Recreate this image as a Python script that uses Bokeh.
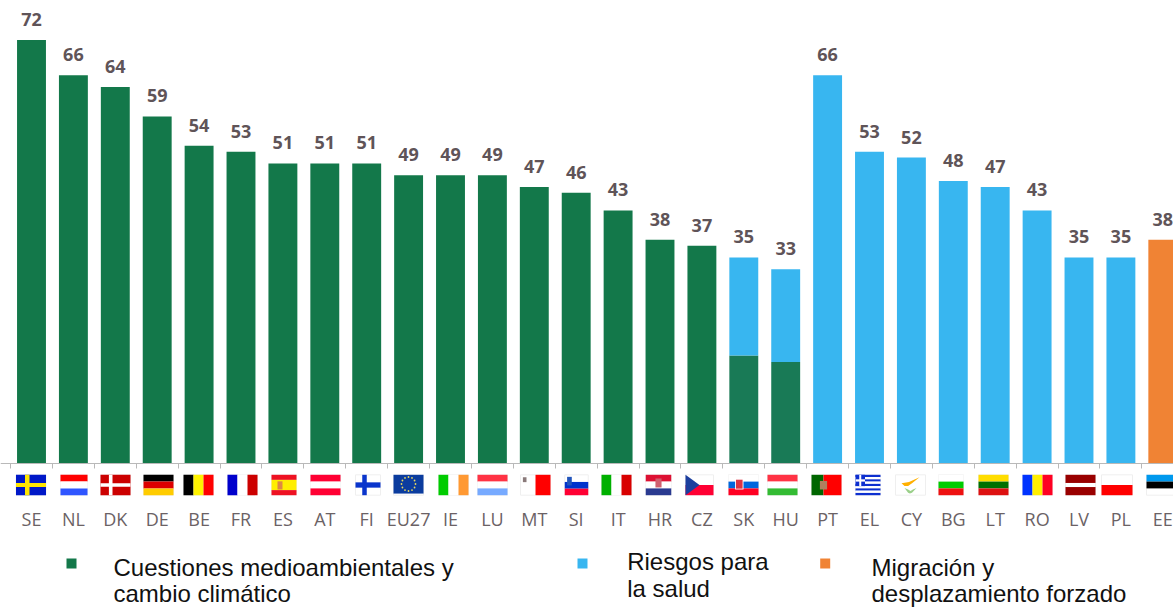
from math import cos, sin, pi
from bokeh.plotting import figure
from bokeh.models import Range1d, FixedTicker
from bokeh.core.properties import value
from bokeh.embed import file_html
from bokeh.resources import INLINE

# ---------- data ----------
categories = ["SE","NL","DK","DE","BE","FR","ES","AT","FI","EU27","IE","LU","MT","SI","IT","HR","CZ",
              "SK","HU","PT","EL","CY","BG","LT","RO","LV","PL","EE"]
totals = [72,66,64,59,54,53,51,51,51,49,49,49,47,46,43,38,37,35,33,66,53,52,48,47,43,35,35,38]
environment = [72,66,64,59,54,53,51,51,51,49,49,49,47,46,43,38,37,18.3,17.2,0,0,0,0,0,0,0,0,0]
health =      [0,0,0,0,0,0,0,0,0,0,0,0,0,0,0,0,0,16.7,15.8,66,53,52,48,47,43,35,35,0]
migration =   [0]*27 + [38]
legend_lines = [["Cuestiones medioambientales y","cambio climático"],["Riesgos para","la salud"],
                ["Migración y","desplazamiento forzado"]]

# ---------- style / layout ----------
GREEN, GREEN_TIED, BLUE, ORANGE = "#13784A", "#197A56", "#38B6F0", "#F08334"
W, H = 1173, 607
STEP, UNIT, BASE_PX, FIRST_PX = 41.9, 5.875, 462.5, 31.0
x0 = -FIRST_PX / STEP
def X(px): return (px - FIRST_PX) / STEP
def Y(py): return (BASE_PX - py) / UNIT

p = figure(width=W, height=H, output_backend="svg", toolbar_location=None,
           x_range=Range1d(x0, x0 + W / STEP), y_range=Range1d(Y(H), Y(0)),
           min_border=0, outline_line_color=None, background_fill_color="white", border_fill_color="white")
p.grid.visible = False
p.yaxis.visible = False

idx = list(range(len(categories)))
bottom = [0.0] * len(idx)
env_colors = [GREEN_TIED if h > 0 and e > 0 else GREEN for e, h in zip(environment, health)]
for vals, col in [(environment, env_colors), (health, BLUE), (migration, ORANGE)]:
    top = [b + v for b, v in zip(bottom, vals)]
    p.vbar(x=idx, bottom=bottom, top=top, width=0.69, fill_color=col, line_color=None)
    bottom = top

p.text(x=idx, y=totals, text=[str(v) for v in totals], text_align="center", text_baseline="alphabetic",
       y_offset=-20.5, text_font=value("Open Sans"), text_font_style="bold", text_font_size="18px", text_color="#5F5458")

ax = p.xaxis[0]
ax.fixed_location = 0
ax.ticker = FixedTicker(ticks=idx, minor_ticks=[i - 0.5 for i in idx] + [27.5])
ax.major_label_overrides = dict(zip(idx, categories))
ax.major_tick_line_color = None
ax.major_tick_out = 0
ax.major_tick_in = 0
ax.minor_tick_out = 5
ax.minor_tick_in = 0
ax.minor_tick_line_color = "#B9B9B9"
ax.axis_line_color = "#B9B9B9"
ax.major_label_standoff = 39
ax.major_label_text_font = "Open Sans"
ax.major_label_text_font_size = "18px"
ax.major_label_text_color = "#6B6265"

# ---------- flags (pictograms under the axis) ----------
def h3(a, b, c): return [(0,0,1,1/3,a),(0,1/3,1,2/3,b),(0,2/3,1,1,c)]
def v3(a, b, c): return [(0,0,1/3,1,a),(1/3,0,2/3,1,b),(2/3,0,1,1,c)]
gr = [(0,i/9,1,(i+1)/9,"#0D2FD0" if i % 2 == 0 else "#FFFFFF") for i in range(9)]
gr += [(0,0,.38,5/9,"#0D2FD0"),(.15,0,.23,5/9,"#FFFFFF"),(0,2/9,.38,3/9,"#FFFFFF")]
FLAGS = {
 "SE": (30.5,30,[(0,0,1,1,"#0018C8"),(.3,0,.45,1,"#FFE600"),(0,.4,1,.6,"#FFE600")]),
 "NL": (73.5,27,h3("#FF0000","#FFFFFF","#2F55FF")),
 "DK": (115,30,[(0,0,1,1,"#CC0000"),(.28,0,.4,1,"#FFFFFF"),(0,.42,1,.58,"#FFFFFF")]),
 "DE": (158,30,h3("#000000","#DD0000","#FFCC00")),
 "BE": (198,30,v3("#000000","#FFF200","#FF0000")),
 "FR": (242,30,v3("#0000CC","#FFFFFF","#CC0000")),
 "ES": (283.5,25,[(0,0,1,.25,"#EE1122"),(0,.25,1,.75,"#FFEE00"),(0,.75,1,1,"#EE1122"),(.24,.32,.44,.72,"#DD8844")]),
 "AT": (325,30,h3("#FF0033","#FFFFFF","#FF0033")),
 "FI": (367.5,25,[(.27,0,.45,1,"#0A35CC"),(0,.37,1,.63,"#0A35CC")]),
 "EU27": (408,30,[(0,0,1,.92,"#0B3C9E")]),
 "IE": (453,30,v3("#00CC00","#FFFFFF","#FF9933")),
 "LU": (492,30,h3("#FF3344","#FFFFFF","#77AAFF")),
 "MT": (535,30,[(.5,0,1,1,"#FF0000"),(.08,.12,.2,.36,"#8A7A7A")]),
 "SI": (576,23.5,[(0,.35,1,.68,"#0033CC"),(0,.68,1,1,"#FF0033"),(.1,.1,.3,.52,"#2255BB")]),
 "IT": (616,30,v3("#00B000","#FFFFFF","#D80000")),
 "HR": (658,25.5,h3("#DD1133","#FFFFFF","#2A3A90")+[(.38,.18,.62,.62,"#D06070")]),
 "CZ": (699,28,[(0,.5,1,1,"#FF0033")]),
 "SK": (743,30,h3("#FFFFFF","#0066DD","#FF0022")+[(.22,.2,.5,.72,"#FFFFFF"),(.25,.24,.47,.68,"#DD3344")]),
 "HU": (782,30,h3("#FF3344","#FFFFFF","#33BB33")),
 "PT": (826,30,[(0,0,.4,1,"#006600"),(.4,0,1,1,"#FF0000"),(.28,.3,.52,.72,"#B08060")]),
 "EL": (867.5,25,gr),
 "CY": (910,30,[]),
 "BG": (950.5,25,h3("#FFFFFF","#00CC00","#EE1111")),
 "LT": (993,30,h3("#FFDD00","#007000","#DD1111")),
 "RO": (1037,30,v3("#0033FF","#FFEE00","#FF0022")),
 "LV": (1080,30,[(0,0,1,.4,"#990000"),(0,.6,1,1,"#990000")]),
 "PL": (1116.5,31,[(0,.5,1,1,"#FF0000")]),
 "EE": (1161,30,[(0,0,1,1/3,"#0099EE"),(0,1/3,1,2/3,"#000000")]),
}
TOP, BOT = 474.3, 494.7
def fx(c, w, f): return X(c - w / 2 + f * w)
def fy(f): return Y(TOP + f * (BOT - TOP))

p.quad(left=[fx(c, w, 0) for c, w, _ in FLAGS.values()], right=[fx(c, w, 1) for c, w, _ in FLAGS.values()],
       top=fy(0), bottom=fy(1), fill_color="white", line_color="#EFEFEF", line_width=1)
rects = [(fx(c, w, a), fx(c, w, b2), fy(t), fy(b), col)
         for c, w, parts in FLAGS.values() for a, t, b2, b, col in parts]
p.quad(left=[r[0] for r in rects], right=[r[1] for r in rects], top=[r[2] for r in rects], bottom=[r[3] for r in rects],
       fill_color=[r[4] for r in rects], line_color=None)

# Czech hoist triangle and Cyprus island
c, w, _ = FLAGS["CZ"]
p.patch([fx(c,w,0), fx(c,w,.5), fx(c,w,0)], [fy(0), fy(.5), fy(1)], fill_color="#1C3F9E", line_color=None)
c, w, _ = FLAGS["CY"]
p.patch([fx(c,w,f) for f in (.2,.45,.8,.55,.42,.3)], [fy(f) for f in (.42,.35,.12,.42,.55,.55)],
        fill_color="#FFB000", line_color=None)
p.patch([fx(c,w,f) for f in (.3,.42,.5,.58,.7,.55,.48,.42)], [fy(f) for f in (.65,.72,.8,.72,.65,.88,.92,.88)],
        fill_color="#9BD08A", line_color=None)
# EU stars
c, w, _ = FLAGS["EU27"]
p.scatter(x=[X(c + 7 * cos(i * pi / 6)) for i in range(12)], y=[Y(483.5 + 7 * sin(i * pi / 6)) for i in range(12)],
          size=1.8, fill_color="#E8D860", line_color=None)

# ---------- legend ----------
KEYS = [(66, GREEN, 113, (576, 602)), (577, BLUE, 626.7, (570, 597)), (819.7, ORANGE, 871, (576, 602))]
for (kx, col, tx, bases), lines in zip(KEYS, legend_lines):
    p.quad(left=[X(kx)], right=[X(kx + 10)], top=[Y(558)], bottom=[Y(568)], fill_color=col, line_color=None)
    p.text(x=[X(tx)] * 2, y=[Y(b) for b in bases], text=lines, text_align="left", text_baseline="alphabetic",
           y_offset=-9, text_font=value("Liberation Sans"), text_font_size="24px", text_color="#111111")

open("out.html", "w").write(file_html(p, INLINE))
